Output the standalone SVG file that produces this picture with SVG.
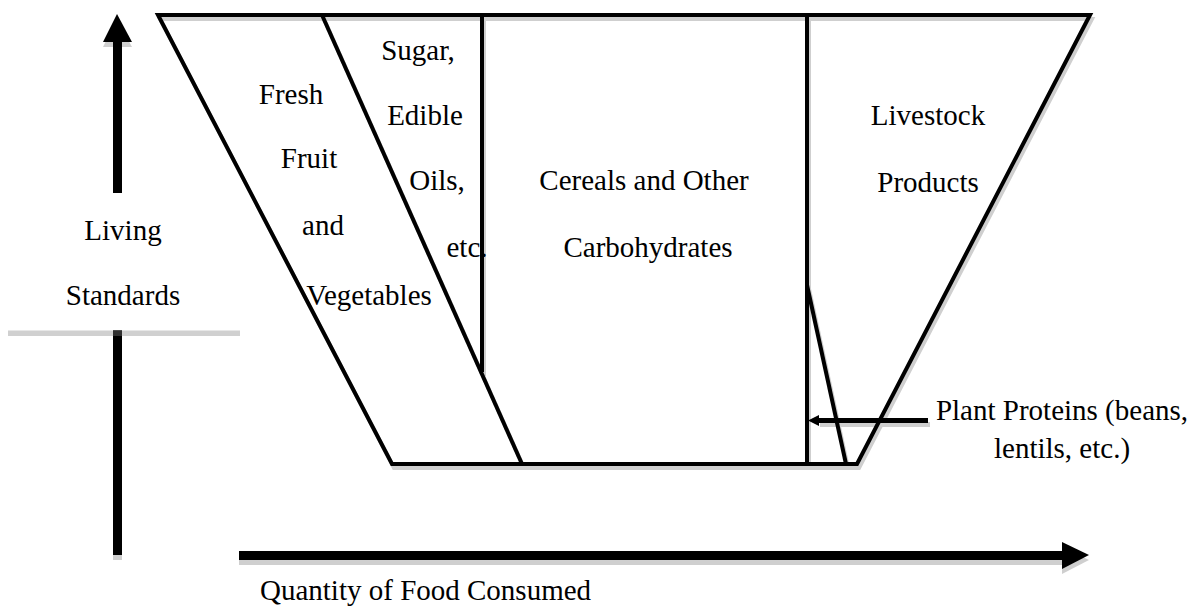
<svg xmlns="http://www.w3.org/2000/svg" width="1192" height="606" viewBox="0 0 1192 606">
<defs>
<style>
.ln{fill:none;stroke:#000;stroke-width:4;stroke-linejoin:miter}
.sl{fill:none;stroke:#cfcfcf;stroke-width:4;stroke-linejoin:miter}
.t{font-family:"Liberation Serif","Times New Roman",serif;font-size:29px;fill:#000;text-anchor:middle}
.k{fill:#000}
.g{fill:#cfcfcf}
</style>
</defs>
<rect width="1192" height="606" fill="#fff"/>
<g id="shadows">
<g transform="translate(2,4)">
<polygon class="sl" points="158,15 1090,15 857,464 392,464"/>
<path class="sl" d="M322,15 L522,464 M482,15 L482,372 M807,15 L807,464 M807,285 L846,464"/>
<rect class="g" x="818" y="418" width="110" height="5"/>
</g>
<g transform="translate(0,5)">
<rect class="g" x="239" y="551" width="823" height="9"/>
<polygon class="g" points="1062,542 1089,555 1062,569"/>
<rect class="g" x="113" y="330" width="9" height="225"/>
<polygon class="g" points="117,14 132,42 103,42"/>
</g>
</g>
<g id="funnel">
<polygon class="ln" points="158,15 1090,15 857,464 392,464"/>
</g>
<g id="fruit-veg">
<path class="ln" d="M322,15 L522,464"/>
<text class="t" x="291" y="104">Fresh</text>
<text class="t" x="309" y="168">Fruit</text>
<text class="t" x="323" y="235">and</text>
<text class="t" x="369" y="305">Vegetables</text>
</g>
<g id="sugar-oils">
<path class="ln" d="M482,15 L482,372"/>
<text class="t" x="418" y="60">Sugar,</text>
<text class="t" x="425" y="125">Edible</text>
<text class="t" x="437" y="190">Oils,</text>
<text class="t" x="467" y="257">etc.</text>
</g>
<g id="cereals">
<path class="ln" d="M807,15 L807,464"/>
<text class="t" x="644" y="190">Cereals and Other</text>
<text class="t" x="648" y="257">Carbohydrates</text>
</g>
<g id="plant-proteins">
<path class="ln" d="M807,285 L846,464"/>
<text class="t" x="1062" y="420">Plant Proteins (beans,</text>
<text class="t" x="1062" y="458">lentils, etc.)</text>
</g>
<g id="livestock">
<text class="t" x="928" y="125">Livestock</text>
<text class="t" x="928" y="192">Products</text>
</g>
<g id="living-standards">
<text class="t" x="123" y="240">Living</text>
<text class="t" x="123" y="305">Standards</text>
</g>
<g id="quantity-label">
<text class="t" x="260" y="600" style="text-anchor:start">Quantity of Food Consumed</text>
</g>
<g id="connectors">
<rect class="k" x="818" y="418" width="110" height="5"/>
<polygon class="k" points="808,420.5 819,415 819,426"/>
<rect class="k" x="239" y="551" width="823" height="9"/>
<polygon class="k" points="1062,542 1089,555 1062,569"/>
<polygon class="k" points="117,14 132,42 103,42"/>
<rect class="k" x="113" y="42" width="9" height="151"/>
<rect class="k" x="113" y="330" width="9" height="225"/>
<rect x="8" y="330.5" width="232" height="5.5" fill="#d0d0d0"/>
<rect x="113" y="330.5" width="9" height="5.5" fill="#303030"/>
</g>
</svg>
